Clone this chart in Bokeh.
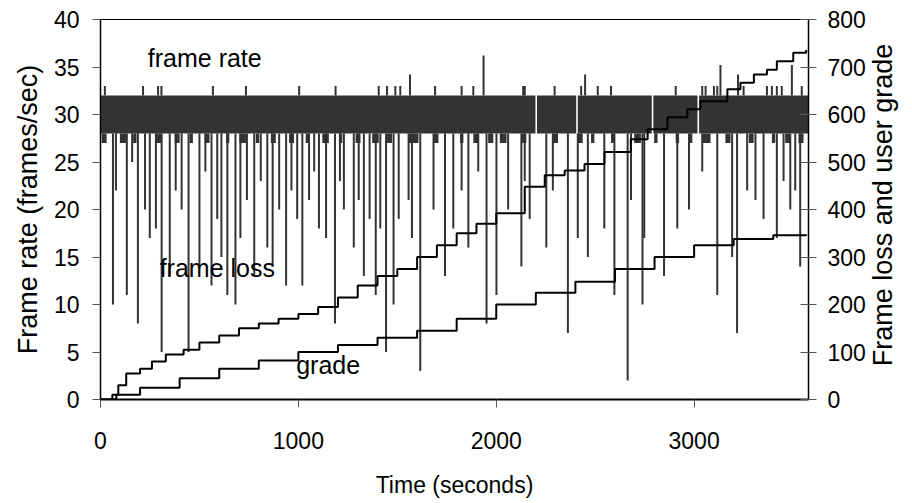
import math
from bokeh.plotting import figure
from bokeh.models import Range1d, LinearAxis, FixedTicker
from bokeh.layouts import row
from bokeh.embed import file_html
from bokeh.resources import INLINE
from bokeh.core.properties import value

# ---- data ----
# frame rate: dense band between ~28 and ~32 fps, with a few thin breaks
band_start = [0, 2206, 2412, 2794, 3025]
band_end = [2198, 2404, 2786, 3017, 3578]
band_low = 28.0
band_high = 32.0
band_floor = 27.0
# short stretches where the band reaches down to ~27 fps
low_start = [6, 98, 165, 282, 375, 450, 526, 635, 702, 785, 861, 953, 1037, 1121,
             1205, 1289, 1373, 1448, 1557, 1683, 1817, 1884, 1959, 2018, 2127,
             2286, 2412, 2479, 2580, 2697, 2798, 2907, 2974, 3041, 3158, 3276,
             3393, 3460, 3527]
low_end = [31, 131, 182, 308, 400, 467, 551, 651, 735, 802, 886, 978, 1054, 1154,
           1222, 1314, 1406, 1473, 1607, 1708, 1834, 1909, 1985, 2052, 2152,
           2312, 2437, 2496, 2600, 2731, 2815, 2924, 2991, 3083, 3184, 3301,
           3410, 3485, 3553]
# upward spikes (time, fps)
spike_t = [22, 215, 291, 308, 568, 735, 1004, 1188, 1406, 1448, 1490, 1515, 1564,
           1691, 1825, 1884, 1936, 2136, 2144, 2295, 2429, 2449, 2513, 2580, 2907,
           3041, 3058, 3100, 3117, 3133, 3222, 3250, 3368, 3393, 3418, 3443, 3494,
           3544]
spike_v = [33, 33, 33, 33, 33, 33, 33, 33, 33, 33, 33, 33, 34.2,
           33, 33, 33, 36.2, 33, 33, 33, 33, 34.2, 33, 33, 33,
           33, 33, 33, 33, 35.2, 34.2, 33, 33, 33, 33, 33, 35.2,
           33]
# downward dips (time, fps)
dip_t = [63, 78, 133, 160, 189, 225, 249, 280, 309, 350, 380, 410, 445, 500, 530,
         561, 590, 611, 641, 682, 707, 740, 777, 810, 843, 870, 903, 938, 965, 994,
         1020, 1054, 1080, 1104, 1140, 1185, 1210, 1230, 1280, 1305, 1331, 1360,
         1391, 1414, 1443, 1481, 1507, 1557, 1574, 1616, 1683, 1741, 1783, 1825,
         1859, 1909, 1951, 2001, 2060, 2127, 2144, 2169, 2253, 2286, 2362, 2412,
         2463, 2546, 2597, 2664, 2681, 2739, 2748, 2848, 2915, 2974, 3041, 3117,
         3192, 3217, 3268, 3310, 3351, 3418, 3452, 3486, 3511, 3536]
dip_v = [10, 22, 11, 25, 8, 20, 17, 18, 5, 13, 22, 20, 5, 14, 24,
         12, 19, 15, 11, 10, 17, 21, 13, 23, 16, 14, 20, 12, 22, 19,
         12, 21, 24, 18, 17, 8, 23, 20, 16, 21, 13, 19,
         11, 18, 5, 10, 19, 21, 17, 3, 20, 13, 18, 22,
         16, 24, 8, 11, 20, 14, 23, 19, 16, 22, 7, 17,
         15, 18, 11, 2, 21, 10, 17, 13, 18, 20, 24, 11,
         15, 7, 22, 21, 19, 17, 23, 20, 22, 14]

# cumulative frame loss (step)
loss_t = [0, 60, 90, 130, 200, 260, 330, 420, 500, 600, 700, 800, 900, 1000, 1100,
          1200, 1300, 1400, 1500, 1600, 1700, 1800, 1900, 2000, 2144, 2245, 2346,
          2446, 2547, 2680, 2765, 2865, 2966, 3032, 3168, 3234, 3302, 3368, 3418,
          3501, 3566]
loss_v = [0, 10, 30, 55, 65, 80, 95, 105, 120, 135, 150, 160, 170, 180, 195,
          215, 240, 260, 275, 300, 325, 350, 370, 392, 448, 472, 482,
          496, 521, 548, 569, 594, 611, 628, 653, 667, 684, 694, 712,
          730, 736]
# cumulative user grade (step)
grade_t = [0, 80, 200, 400, 600, 800, 1000, 1200, 1400, 1600, 1800, 2000, 2200,
           2400, 2600, 2800, 3000, 3200, 3400, 3566]
grade_v = [0, 10, 25, 45, 65, 82, 100, 115, 130, 145, 170, 200, 225,
           248, 275, 300, 325, 338, 346, 348]

x_ticks = [0, 1000, 2000, 3000]
left_ticks = [0, 5, 10, 15, 20, 25, 30, 35, 40]
right_ticks = [0, 100, 200, 300, 400, 500, 600, 700, 800]

FONT = "Liberation Sans"
FS = "23px"
TITLE_FS = "27px"
NOTE_FS = "25px"
BAND = "#333333"
TICK = "#555555"

p = figure(width=868, height=500, output_backend="svg", toolbar_location=None,
           x_range=Range1d(0, 3578), y_range=Range1d(0, 40),
           min_border_left=100, min_border_right=56, min_border_top=19,
           min_border_bottom=97)
p.extra_y_ranges = {"loss": Range1d(0, 800)}
p.background_fill_color = "white"
p.border_fill_color = "white"
p.outline_line_color = "black"
p.outline_line_width = 1
p.xgrid.visible = False
p.ygrid.visible = False

# frame-rate band
p.quad(left=band_start, right=band_end, bottom=band_low, top=band_high,
       fill_color=BAND, line_color=None)
p.quad(left=low_start, right=low_end, bottom=band_floor, top=band_low,
       fill_color=BAND, line_color=None)
p.segment(x0=spike_t, y0=[band_high] * len(spike_t), x1=spike_t, y1=spike_v,
          line_color=BAND, line_width=2)
p.segment(x0=dip_t, y0=[band_low] * len(dip_t), x1=dip_t, y1=dip_v,
          line_color=BAND, line_width=2)

p.step(loss_t, loss_v, mode="after", y_range_name="loss", line_color="black", line_width=2)
p.step(grade_t, grade_v, mode="after", y_range_name="loss", line_color="black", line_width=2)

# annotations
p.text(x=[239], y=[35.97], text=["frame rate"], text_font=value(FONT), text_font_size=NOTE_FS,
       text_baseline="middle", text_color="black")
p.text(x=[299], y=[13.85], text=["frame loss"], text_font=value(FONT), text_font_size=NOTE_FS,
       text_baseline="middle", text_color="black")
p.text(x=[989], y=[3.6], text=["grade"], text_font=value(FONT), text_font_size=NOTE_FS,
       text_baseline="middle", text_color="black")

def style(ax):
    ax.axis_label_text_font = FONT
    ax.axis_label_text_font_size = TITLE_FS
    ax.axis_label_text_font_style = "normal"
    ax.axis_label_text_color = "black"
    ax.major_label_text_font = FONT
    ax.major_label_text_font_size = FS
    ax.major_label_text_color = "black"
    ax.axis_line_color = "black"
    ax.major_tick_line_color = TICK
    ax.minor_tick_line_color = None
    ax.major_tick_out = 8
    ax.major_tick_in = 0

xa = p.xaxis[0]
style(xa)
xa.ticker = FixedTicker(ticks=x_ticks)
xa.axis_label = "Time (seconds)"
xa.axis_label_text_font_size = FS
xa.axis_line_width = 2
xa.major_label_standoff = 24
xa.axis_label_standoff = 20

ya = p.yaxis[0]
style(ya)
ya.ticker = FixedTicker(ticks=left_ticks)
ya.axis_label = "Frame rate (frames/sec)"
ya.axis_line_width = 1.5
ya.major_label_standoff = 13
ya.axis_label_standoff = 8

ra = LinearAxis(y_range_name="loss", ticker=FixedTicker(ticks=right_ticks))
style(ra)
ra.major_tick_in = 8
ra.axis_line_width = 1.5
ra.major_label_standoff = 11
p.add_layout(ra, "right")

# right-hand title (reads bottom to top), in a narrow strip next to the chart
t = figure(width=42, height=500, output_backend="svg", toolbar_location=None,
           x_range=Range1d(0, 1), y_range=Range1d(0, 500),
           x_axis_type=None, y_axis_type=None, min_border=0)
t.outline_line_color = None
t.xgrid.visible = False
t.ygrid.visible = False
t.background_fill_color = "white"
t.border_fill_color = "white"
t.text(x=[0.357], y=[256], text=["Frame loss and user grade"], angle=math.pi / 2,
       text_font=value(FONT), text_font_size=TITLE_FS, text_align="center",
       text_baseline="middle", text_color="black")

layout = row(p, t)
open("out.html", "w").write(file_html(layout, INLINE))
